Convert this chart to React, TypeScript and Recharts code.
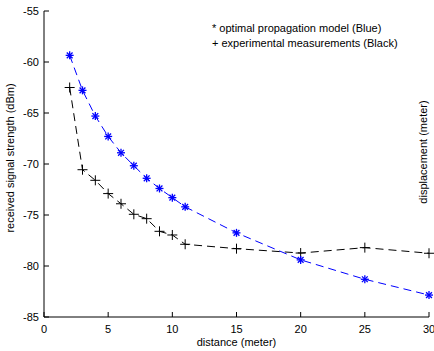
import React from 'react';
import { LineChart, Line, XAxis, YAxis, Label } from 'recharts';

const distance = [2, 3, 4, 5, 6, 7, 8, 9, 10, 11, 15, 20, 25, 30];
const modelBlue = [-59.35, -62.78, -65.3, -67.3, -68.9, -70.17, -71.4, -72.4, -73.3, -74.2, -76.75, -79.4, -81.3, -82.85];
const measuredBlack = [-62.5, -70.56, -71.6, -72.9, -73.9, -74.93, -75.36, -76.6, -76.96, -77.87, -78.3, -78.73, -78.2, -78.75];
const xTicks = [0, 5, 10, 15, 20, 25, 30];
const yTicks = [-85, -80, -75, -70, -65, -60, -55];

const data = distance.map((d, i) => ({ d, blue: modelBlue[i], black: measuredBlack[i] }));

const FONT = '"Liberation Sans", Arial, Helvetica, sans-serif';
const TICK_MARGIN = 4;
const TICK_LEN = 5;

const YTick = (props: any) => {
  const { x, y, payload } = props;
  const ax = x + TICK_MARGIN;
  return (
    <g>
      <line x1={ax} x2={ax + TICK_LEN} y1={y} y2={y} stroke="#000" strokeWidth={1} />
      <text x={x - 1} y={y} dy={4} textAnchor="end" fontSize={11} fontFamily={FONT} fill="#000">
        {payload.value}
      </text>
    </g>
  );
};

const XTick = (props: any) => {
  const { x, y, payload } = props;
  const ay = y - TICK_MARGIN;
  return (
    <g>
      <line x1={x} x2={x} y1={ay} y2={ay - TICK_LEN} stroke="#000" strokeWidth={1} />
      <text x={x} y={y} dy={12} textAnchor="middle" fontSize={11} fontFamily={FONT} fill="#000">
        {payload.value}
      </text>
    </g>
  );
};

const StarDot = (props: any) => {
  const { cx, cy } = props;
  if (cx == null || cy == null) return null;
  const r = 4;
  const d = 2.9;
  return (
    <g stroke="#0000ff" strokeWidth={1.3}>
      <line x1={cx - r} x2={cx + r} y1={cy} y2={cy} />
      <line x1={cx} x2={cx} y1={cy - r} y2={cy + r} />
      <line x1={cx - d} x2={cx + d} y1={cy - d} y2={cy + d} />
      <line x1={cx - d} x2={cx + d} y1={cy + d} y2={cy - d} />
    </g>
  );
};

const PlusDot = (props: any) => {
  const { cx, cy } = props;
  if (cx == null || cy == null) return null;
  const r = 5;
  return (
    <g stroke="#000" strokeWidth={1}>
      <line x1={cx - r} x2={cx + r} y1={cy} y2={cy} />
      <line x1={cx} x2={cx} y1={cy - r} y2={cy + r} />
    </g>
  );
};

export default function App() {
  return (
    <div style={{ position: 'absolute', left: 0, top: 0, width: 434, height: 351, background: '#fff' }}>
      <LineChart width={434} height={351} data={data} margin={{ top: 11, right: 5, bottom: 0, left: 0 }}>
        <XAxis
          dataKey="d"
          type="number"
          domain={[0, 30]}
          ticks={xTicks}
          height={34}
          tickSize={0}
          tickMargin={TICK_MARGIN}
          tickLine={false}
          tick={<XTick />}
          axisLine={{ stroke: '#000' }}
          interval={0}
        >
          <Label value="distance (meter)" position="insideBottom" offset={5} fontSize={11} fontFamily={FONT} fill="#000" />
        </XAxis>
        <YAxis
          type="number"
          domain={[-85, -55]}
          ticks={yTicks}
          width={44}
          tickSize={0}
          tickMargin={TICK_MARGIN}
          tickLine={false}
          tick={<YTick />}
          axisLine={{ stroke: '#000' }}
          interval={0}
        >
          <Label value="received signal strength (dBm)" angle={-90} position="insideLeft" offset={10} dy={-6} style={{ textAnchor: 'middle' }} fontSize={11} fontFamily={FONT} fill="#000" />
        </YAxis>
        <Line
          dataKey="black"
          stroke="#000"
          strokeWidth={1}
          strokeDasharray="8 5"
          dot={<PlusDot />}
          activeDot={false}
          isAnimationActive={false}
        />
        <Line
          dataKey="blue"
          stroke="#0000ff"
          strokeWidth={1}
          strokeDasharray="8 5"
          dot={<StarDot />}
          activeDot={false}
          isAnimationActive={false}
        />
        <text x={212} y={32} fontSize={11} fontFamily={FONT} fill="#000">* optimal propagation model (Blue)</text>
        <text x={212} y={47} fontSize={11} fontFamily={FONT} fill="#000">+ experimental measurements (Black)</text>
        <text x={427} y={152} transform="rotate(-90 427 152)" textAnchor="middle" fontSize={11} fontFamily={FONT} fill="#000">displacement (meter)</text>
      </LineChart>
    </div>
  );
}
